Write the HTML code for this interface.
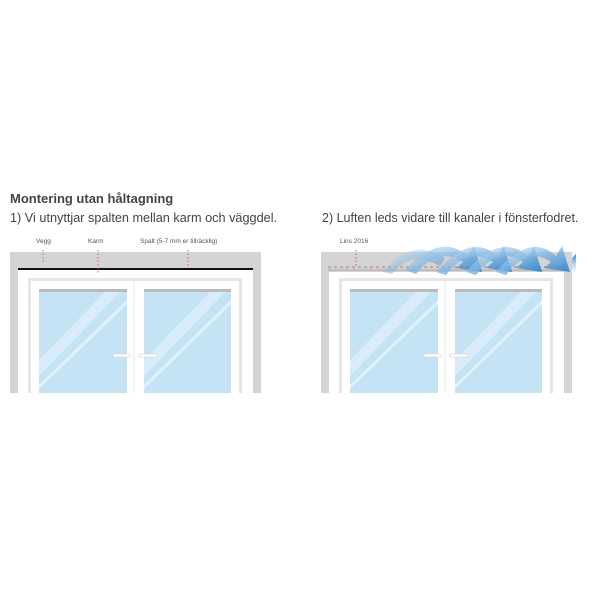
<!DOCTYPE html>
<html><head><meta charset="utf-8"><style>
body{margin:0;background:#fff;width:600px;height:600px;overflow:hidden;font-family:"Liberation Sans",sans-serif;}
</style></head><body>
<svg width="600" height="600" xmlns="http://www.w3.org/2000/svg" style="position:absolute;left:0;top:0">
<defs>
<linearGradient id="ar" x1="0" y1="0" x2="1" y2="1">
<stop offset="0" stop-color="#d6ebf9" stop-opacity="0.7"/><stop offset="1" stop-color="#1a78cc"/>
</linearGradient>
<linearGradient id="ar2" x1="0" y1="0" x2="0" y2="1">
<stop offset="0" stop-color="#2b86d2"/><stop offset="1" stop-color="#e6f2fb" stop-opacity="0.5"/>
</linearGradient>
</defs>
<text x="10" y="203" font-size="13" font-weight="bold" fill="#444">Montering utan håltagning</text>
<text x="10" y="222" font-size="12.7" fill="#444">1) Vi utnyttjar spalten mellan karm och väggdel.</text>
<text x="322" y="222" font-size="12.5" fill="#444">2) Luften leds vidare till kanaler i fönsterfodret.</text>
<text x="36" y="243" font-size="6.5" fill="#555">Vegg</text>
<text x="88" y="243" font-size="6.5" fill="#555">Karm</text>
<text x="140" y="243" font-size="6.5" fill="#555">Spalt (5-7 mm er tillräcklig)</text>
<text x="340" y="243" font-size="6.5" fill="#555">Lins 2016</text>

<g id="win">
<rect x="10" y="252" width="251" height="141" fill="#d4d4d4"/>
<rect x="18" y="269" width="235" height="124" fill="#fff"/>
<rect x="28" y="278" width="214" height="115" fill="#e6e6e6"/>
<rect x="31" y="281" width="208" height="112" fill="#fff"/>
<rect x="39" y="289" width="88" height="104" fill="#c4e4f6"/>
<rect x="144" y="289" width="87" height="104" fill="#c4e4f6"/>
<rect x="39" y="289" width="88" height="3" fill="#bbb"/>
<rect x="144" y="289" width="87" height="3" fill="#bbb"/>
<line x1="134" y1="281" x2="134" y2="393" stroke="#e4e4e4" stroke-width="1"/>
<polygon points="39,360 105,292 120,292 39,376" fill="#fff" opacity="0.35"/>
<polygon points="39,385 127,300 127,304 39,389" fill="#fff" opacity="0.5"/>
<polygon points="144,360 210,292 225,292 144,376" fill="#fff" opacity="0.35"/>
<polygon points="144,385 231,300 231,304 144,389" fill="#fff" opacity="0.5"/>
<rect x="113" y="354" width="17" height="3" fill="#fff" stroke="#ccc" stroke-width="0.5"/>
<rect x="139" y="354" width="18" height="3" fill="#fff" stroke="#ccc" stroke-width="0.5"/>
</g>
<rect x="18" y="268" width="235" height="2" fill="#111"/>
<line x1="43" y1="250" x2="43" y2="262" stroke="#e06070" stroke-dasharray="1.5,2"/>
<line x1="98" y1="250" x2="98" y2="274" stroke="#e06070" stroke-dasharray="1.5,2"/>
<line x1="188" y1="250" x2="188" y2="268" stroke="#e06070" stroke-dasharray="1.5,2"/>

<g transform="translate(311,0)"><use href="#win"/></g>
<rect x="328" y="265" width="236" height="7" fill="#d4d4d4"/>
<line x1="328" y1="267" x2="564" y2="267" stroke="#c94a4a" stroke-dasharray="3,3" stroke-width="0.8"/>
<line x1="328" y1="270" x2="564" y2="270" stroke="#999" stroke-width="0.8"/>
<line x1="356" y1="250" x2="356" y2="266" stroke="#e06070" stroke-dasharray="1.5,2"/>
<g>
<path d="M383,272 Q410,236 445,258 L440,266 Q410,250 392,274Z" fill="url(#ar)" opacity="0.55"/>
<path d="M405,270 Q440,232 468,256 L474,246 L482,272 L456,268 L463,262 Q438,246 416,274Z" fill="url(#ar)" opacity="0.85"/>
<path d="M436,272 Q470,232 498,256 L504,246 L512,272 L486,268 L493,262 Q468,246 446,275Z" fill="url(#ar)" opacity="0.9"/>
<path d="M466,272 Q500,232 528,256 L534,246 L542,272 L516,268 L523,262 Q498,246 476,275Z" fill="url(#ar)" opacity="0.9"/>
<path d="M496,272 Q530,232 556,256 L562,246 L570,272 L544,268 L551,262 Q528,246 506,275Z" fill="url(#ar)" opacity="0.9"/>
<path d="M572,258 L576,254 L576,272 L572,272Z" fill="url(#ar2)"/>
</g>
</svg>
</body></html>
